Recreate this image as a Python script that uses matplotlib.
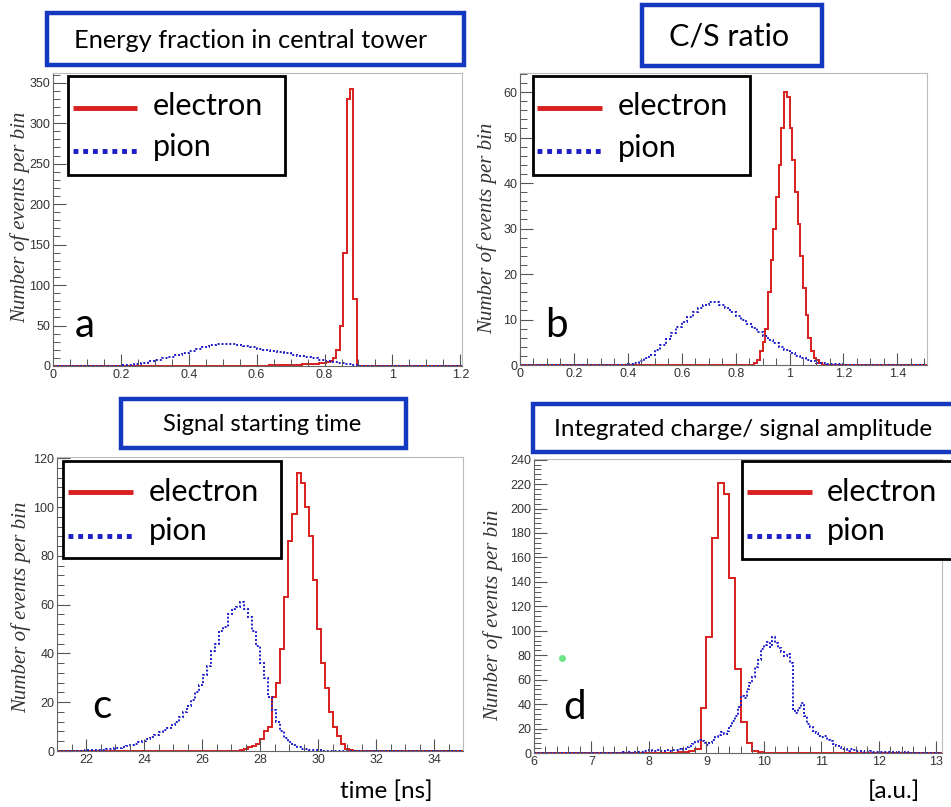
import numpy as np
import matplotlib
matplotlib.use("Agg")
import matplotlib.pyplot as plt
from matplotlib.patches import Rectangle
from matplotlib.ticker import MultipleLocator

# ---- data ----
titles = ["Energy fraction in central tower", "C/S ratio",
          "Signal starting time", "Integrated charge/ signal amplitude"]
letters = ["a", "b", "c", "d"]
legend_labels = ["electron", "pion"]

# panel a: energy fraction
a_el_start, a_el_width = 0.605, 0.01
a_el_counts = [0.5, 0.5, 0.5, 0.8, 0.8, 1, 1, 1, 1.2, 1.2, 1.5, 1.5, 1.8, 2, 2,
               2.5, 3, 3, 3.5, 4, 5, 6, 10, 20, 50, 140, 330, 342, 83]
a_pi_start, a_pi_width = 0.16, 0.02
a_pi_counts = [0.3, 0.5, 1.0, 1.8, 3.0, 4.3, 5.8, 7.5, 9.5, 11.5,
               14.0, 16.5, 19.0, 21.5, 24.0, 26.0, 27.0, 27.5, 27.0, 26.0,
               24.5, 23.0, 21.5, 20.0, 18.5, 17.0, 15.5, 14.0, 12.5, 11.0,
               9.5, 8.0, 6.5, 5.0, 3.8, 2.6, 1.4, 0.5]

# panel b: C/S ratio
b_el_start, b_el_width = 0.87, 0.01
b_el_counts = [0.5, 1, 3, 5, 8, 16, 23, 30, 37, 44, 52, 60, 59, 52, 45,
               38, 31, 24, 17, 11, 6, 3, 1.5, 1, 0.5]
b_pi_start, b_pi_width = 0.38, 0.02
b_pi_counts = [0.1, 0.2, 0.4, 0.8, 1.5, 2.3, 3.3, 4.5, 5.8, 7.0,
               8.3, 9.5, 10.6, 11.6, 12.5, 13.3, 13.8, 13.8, 13.3, 12.6,
               11.6, 10.7, 9.9, 9.1, 8.2, 7.3, 6.4, 5.6, 4.8, 4.0,
               3.3, 2.6, 2.0, 1.5, 1.1, 0.8, 0.5, 0.4, 0.3, 0.2,
               0.2, 0.1, 0.1, 0.1]

# panel c: signal starting time [ns], bins of 0.14 ns
c_el_start, c_el_width = 27.30, 0.14
c_el_counts = [0.5, 1, 1.5, 2, 3, 5, 8, 10, 22, 28, 42, 63, 86, 97, 114,
               110, 100, 88, 70, 50, 36, 26, 16, 10, 6, 3, 1, 0.3]
c_pi_start, c_pi_width = 21.70, 0.14
c_pi_counts = [0.2, 0.2, 0.3, 0.3, 0.4, 0.5, 0.6, 0.8, 0.9, 1.1,
               1.3, 1.6, 2.0, 2.5, 3.0, 3.6, 4.2, 5.0, 5.8, 6.6,
               7.6, 8.6, 9.5, 10.5, 12, 14, 16, 18.5, 21, 24,
               27, 31, 35, 41, 44, 49, 51, 56, 58, 59,
               61, 58, 55, 49, 43, 36, 30, 22, 17, 12,
               8, 5.5, 3.5, 2.5, 1.6, 1.0, 0.7, 0.5, 0.4, 0.3,
               0.2, 0.1]

# panel d: integrated charge / amplitude [a.u.]
d_el_start, d_el_width = 8.5, 0.1
d_el_counts = [0.5, 1, 2, 3, 37, 95, 176, 221, 212, 143, 69, 25, 8, 2, 0.5]
d_pi_start, d_pi_width = 7.5, 0.05
d_pi_counts = [0.3, 0.5, 0.2, 0.8, 0.4, 1.0, 0.6, 1.2, 1.5, 2.0,
               2.5, 1.8, 1.5, 2.2, 1.4, 2.0, 2.4, 1.8, 2.6, 2.2,
               3.0, 2.6, 3.5, 4.5, 5.5, 7.0, 9.0, 11.0, 9.5, 8.0,
               6.5, 8.5, 11.0, 13.0, 15.0, 17.0, 15.5, 18.0, 22.0, 26.0,
               30.0, 38.0, 47.0, 45.0, 52.0, 57.0, 62.0, 70.0, 76.0, 85.0,
               88.0, 91.0, 87.0, 95.0, 90.0, 86.0, 83.0, 79.0, 81.0, 74.0,
               36.0, 33.0, 37.0, 41.0, 30.0, 24.0, 21.0, 18.0, 16.0, 14.0,
               13.0, 14.0, 11.0, 10.0, 7.0, 6.0, 4.5, 3.5, 3.0, 2.0,
               3.5, 2.5, 2.0, 1.5, 1.8, 1.2, 1.0, 1.5, 0.8, 1.0,
               0.8, 1.2, 0.5, 0.8, 0.6, 1.0, 0.4, 0.5, 0.3, 0.5,
               0.2, 0.3]

# ---- layout (pixels of a 951x807 canvas) ----
W, H = 951, 807
RED = "#d81e1e"
BLUE = "#1c1cc8"
BOXBLUE = "#1538c0"
SANS = ["Lato", "DejaVu Sans"]

fig = plt.figure(figsize=(W / 100, H / 100), dpi=100)


def px_axes(left, top, right, bottom):
    return fig.add_axes([left / W, 1 - bottom / H, (right - left) / W, (bottom - top) / H])


def stairs_full(ax, start, width, counts, xmin, xmax, **kw):
    edges = start + width * np.arange(len(counts) + 1)
    vals = np.concatenate([[0], counts, [0]])
    edges = np.concatenate([[xmin], edges, [xmax]])
    ax.stairs(vals, edges, **kw)


panels = [
    dict(box=(53, 73, 462, 366), xlim=(0, 1.205), ylim=(0, 362),
         xmaj=0.2, xmin=0.05, ymaj=50, ymin=10,
         el=(a_el_start, a_el_width, a_el_counts), pi=(a_pi_start, a_pi_width, a_pi_counts)),
    dict(box=(520, 73, 927, 365), xlim=(0, 1.51), ylim=(0, 64.2),
         xmaj=0.2, xmin=0.05, ymaj=10, ymin=2,
         el=(b_el_start, b_el_width, b_el_counts), pi=(b_pi_start, b_pi_width, b_pi_counts)),
    dict(box=(57, 457, 463, 751), xlim=(21, 35), ylim=(0, 120.5),
         xmaj=2, xmin=0.5, ymaj=20, ymin=4,
         el=(c_el_start, c_el_width, c_el_counts), pi=(c_pi_start, c_pi_width, c_pi_counts)),
    dict(box=(534, 459, 942, 753), xlim=(6, 13.1), ylim=(0, 240.5),
         xmaj=1, xmin=0.2, ymaj=20, ymin=4,
         el=(d_el_start, d_el_width, d_el_counts), pi=(d_pi_start, d_pi_width, d_pi_counts)),
]

for p in panels:
    ax = px_axes(*p["box"])
    x0, x1 = p["xlim"]
    stairs_full(ax, *p["el"], x0, x1, color=RED, lw=1.4)
    stairs_full(ax, *p["pi"], x0, x1, color=BLUE, lw=1.4, linestyle=(0, (1, 1)))
    ax.set_xlim(*p["xlim"])
    ax.set_ylim(*p["ylim"])
    ax.xaxis.set_major_locator(MultipleLocator(p["xmaj"]))
    ax.xaxis.set_minor_locator(MultipleLocator(p["xmin"]))
    ax.yaxis.set_major_locator(MultipleLocator(p["ymaj"]))
    ax.yaxis.set_minor_locator(MultipleLocator(p["ymin"]))
    ax.xaxis.set_major_formatter(matplotlib.ticker.FuncFormatter(lambda v, _: f"{v:g}"))
    ax.tick_params(which="major", direction="in", length=9, width=0.8, color="#555",
                   labelsize=9, labelcolor="#333", pad=2)
    ax.tick_params(which="minor", direction="in", length=5, width=0.7, color="#555")
    for lab in ax.get_xticklabels() + ax.get_yticklabels():
        lab.set_family("Liberation Sans")
    for s in ("left", "bottom"):
        ax.spines[s].set_color("#666")
    for s in ("top", "right"):
        ax.spines[s].set_color("#bbbbbb")

# overlay in pixel coordinates for boxes and free text
ov = fig.add_axes([0, 0, 1, 1])
ov.set_xlim(0, W)
ov.set_ylim(H, 0)
ov.axis("off")

# title boxes
title_boxes = [(47, 13, 464, 65, 18.3), (642, 5, 822, 66, 22),
               (121, 399, 406, 448, 17), (533, 404, 960, 452, 17.5)]
title_cx = [251, 729, 262, 743]
for (l, t, r, b, fs), txt, cx in zip(title_boxes, titles, title_cx):
    ov.add_patch(Rectangle((l, t), r - l, b - t, fill=True, facecolor="white",
                           edgecolor=BOXBLUE, lw=3.2, zorder=5))
    ov.text(cx, (t + b) / 2 + 1, txt, ha="center", va="center", fontsize=fs,
            family=SANS, color="black", zorder=6)

# legends
legends = [
    dict(box=(68, 76, 285, 175), line=(73, 137), ly=(108, 151), tx=153, tb=(115, 156)),
    dict(box=(533, 76, 750, 175), line=(537, 602), ly=(108, 151), tx=618, tb=(115, 157)),
    dict(box=(63, 461, 281, 558), line=(68, 133), ly=(492, 536), tx=149, tb=(501, 540)),
    dict(box=(742, 461, 960, 559), line=(747, 812), ly=(492, 536), tx=827, tb=(501, 540)),
]
for lg in legends:
    l, t, r, b = lg["box"]
    ov.add_patch(Rectangle((l, t), r - l, b - t, facecolor="white", edgecolor="black",
                           lw=2, zorder=5))
    x0, x1 = lg["line"]
    ov.plot([x0, x1], [lg["ly"][0]] * 2, color=RED, lw=3.5, solid_capstyle="butt", zorder=6)
    ov.plot([x0, x1], [lg["ly"][1]] * 2, color=BLUE, lw=3.5, linestyle=(0, (1, 1)),
            dash_capstyle="butt", zorder=6)
    for lab, yb in zip(legend_labels, lg["tb"]):
        ov.text(lg["tx"], yb, lab, ha="left", va="baseline", fontsize=22,
                family=SANS, zorder=6)

# panel letters
letter_pos = [(75, 337), (545, 337), (92, 718), (563, 719)]
for ch, (x, y) in zip(letters, letter_pos):
    ov.text(x, y, ch, ha="left", va="baseline", fontsize=29, family=SANS, zorder=6)

# y labels
ylab_pos = [(20, 217), (487, 228), (21, 607), (493, 615)]
for x, y in ylab_pos:
    ov.text(x, y, "Number of events per bin", rotation=90, ha="center", va="center",
            fontsize=15, family="Liberation Serif", style="italic", color="#333", zorder=6)

# x labels
ov.text(340, 798, "time [ns]", ha="left", va="baseline", fontsize=17.5, family=SANS, zorder=6)
ov.text(868, 798, "[a.u.]", ha="left", va="baseline", fontsize=17.5, family=SANS, zorder=6)

# small green mark in panel d
ov.plot([562], [658], "o", color="#6fe58a", ms=4, zorder=6)

fig.savefig("out.png", dpi=100)
